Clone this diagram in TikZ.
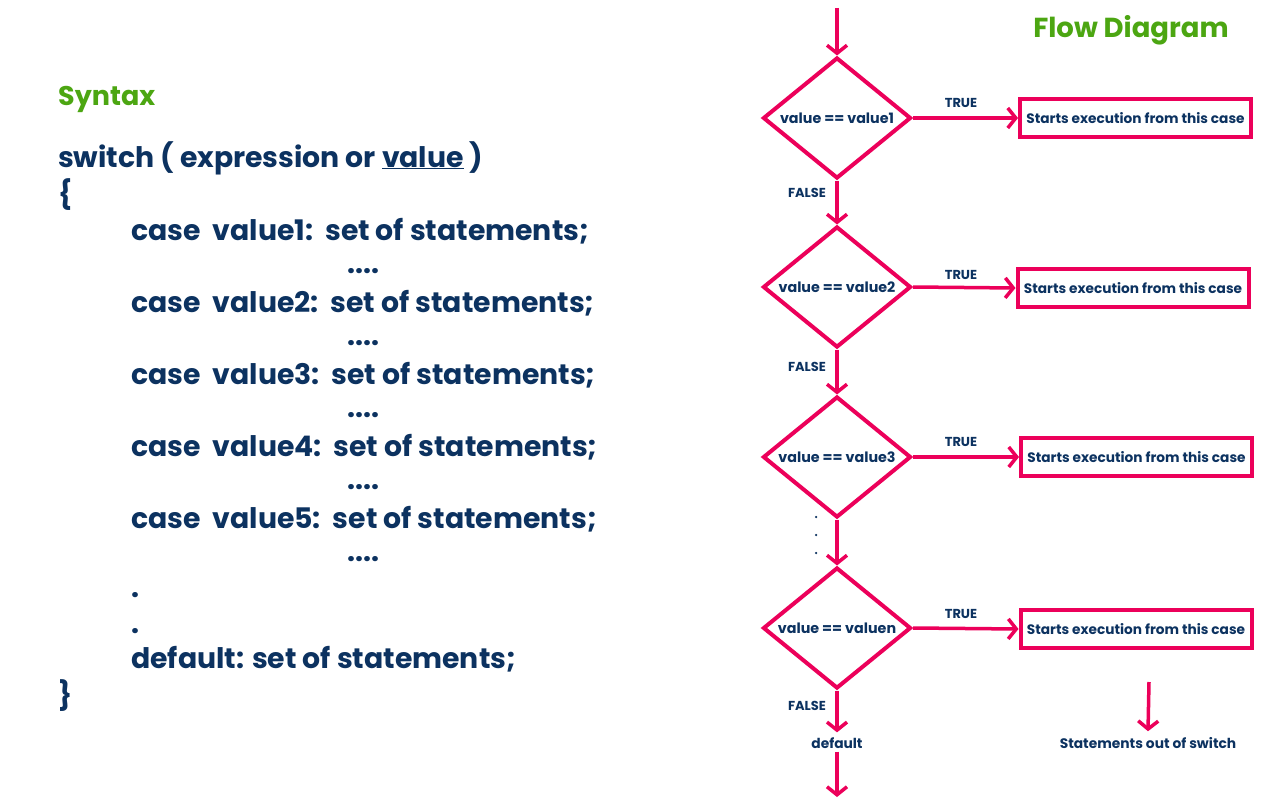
\documentclass[tikz,border=0pt]{standalone}
\usepackage{fontspec}
\setmainfont{Poppins}
\usetikzlibrary{shapes.geometric,arrows.meta}
\definecolor{pinkc}{RGB}{236,0,90}
\definecolor{navy}{RGB}{12,50,96}
\definecolor{greenc}{RGB}{76,166,18}
\newcommand{\csp}{\hspace{12pt}}
\newcommand{\zw}[1]{\makebox[0pt]{#1}}
\tikzset{
  dia/.style={diamond,draw=pinkc,line width=4pt,minimum width=148pt,minimum height=121pt,inner sep=0pt,
    font=\bfseries\fontsize{14.3}{16}\selectfont,text=navy},
  casebox/.style={rectangle,draw=pinkc,line width=4pt,minimum width=231pt,minimum height=38pt,inner sep=0pt,
    font=\bfseries\fontsize{13.7}{15}\selectfont,text=navy},
  arr/.style={draw=pinkc,line width=3.5pt,-{Straight Barb[length=8pt,width=20pt]}},
  lbl/.style={font=\bfseries\fontsize{13}{15}\selectfont,text=navy,inner sep=0pt},
  lbb/.style={font=\bfseries\fontsize{13.8}{15}\selectfont,text=navy,inner sep=0pt},
  code/.style={anchor=base west,font=\bfseries\fontsize{28.3}{30}\selectfont,text=navy,inner sep=0pt},
  ttl/.style={font=\bfseries\fontsize{27.5}{30}\selectfont,text=greenc,inner sep=0pt},
  dotn/.style={circle,fill=navy,inner sep=0pt,minimum size=2.5pt}
}
\begin{document}
\begin{tikzpicture}[x=1pt,y=-1pt]
\useasboundingbox (0,0) rectangle (1280,800);
\fill[white] (0,0) rectangle (1280,800);
% left: syntax
\node[ttl,anchor=base west,font=\bfseries\fontsize{27}{30}\selectfont] (syn) at (58,105) {Syntax};
\node[code] (l0) at (58,167) {switch ( expression or \underline{value} )};
\node[code] (l1) at (58,204) {\{};
\node[code] (c1) at (131,240) {case\ \ value1:\csp set of statements;};
\node[code] (e1) at (347,273) {....};
\node[code] (c2) at (131,312) {case\ \ value2:\csp set of statements;};
\node[code] (e2) at (347,345) {....};
\node[code] (c3) at (131,384) {case\ \ value3:\csp set of statements;};
\node[code] (e3) at (347,417) {....};
\node[code] (c4) at (131,456) {case\ \ value4:\csp set of statements;};
\node[code] (e4) at (347,489) {....};
\node[code] (c5) at (131,528) {case\ \ value5:\csp set of statements;};
\node[code] (e5) at (347,561) {....};
\node[code] (s1) at (131,597) {.};
\node[code] (s2) at (131,633) {.};
\node[code] (df) at (131,668) {default: set of statements;};
\node[code] (l2) at (58,705) {\}};
% right: flow diagram
\node[ttl] (fd) at (1131,30) {Flow Diagram};
\coordinate (top) at (837,8);
\node[dia] (d1) at (837,118) {\zw{value == value1}};
\node[dia] (d2) at (837,287) {\zw{value == value2}};
\node[dia] (d3) at (837,457) {\zw{value == value3}};
\node[dia] (dn) at (837,628) {\zw{value == valuen}};
\node[casebox] (b1) at (1135.5,118) {Starts execution from this case};
\node[casebox] (b2) at (1133,288) {Starts execution from this case};
\node[casebox] (b3) at (1136.5,457) {Starts execution from this case};
\node[casebox] (bn) at (1136,629) {Starts execution from this case};
\draw[arr] (top) -- (d1.north);
\draw[arr] (d1.south) -- (d2.north);
\draw[arr] (d2.south) -- (d3.north);
\draw[arr] (d3.south) -- (dn.north);
\draw[arr] (d1.east) -- (b1.west);
\draw[arr] (d2.east) -- (b2.west);
\draw[arr] (d3.east) -- (b3.west);
\draw[arr] (dn.east) -- (bn.west);
\node[lbl] (t1) at (961,103) {TRUE};
\node[lbl] (t2) at (961,275) {TRUE};
\node[lbl] (t3) at (961,442) {TRUE};
\node[lbl] (tn) at (961,614) {TRUE};
\node[lbl] (f1) at (807,193) {FALSE};
\node[lbl] (f2) at (807,367) {FALSE};
\node[lbl] (fn) at (807,706) {FALSE};
\node[dotn] (p1) at (816,517) {};
\node[dotn] (p2) at (816,535) {};
\node[dotn] (p3) at (816,553) {};
\node[lbb] (def) at (837,743) {default};
\draw[arr] (dn.south) -- ([yshift=5pt]def.north);
\coordinate (bot) at (837,797);
\draw[arr] ([yshift=-3pt]def.south) -- (bot);
\coordinate (outtop) at (1149,682);
\node[lbb] (out) at (1148,743) {Statements out of switch};
\draw[arr] (outtop) -- ([yshift=6pt]out.north);
\end{tikzpicture}
\end{document}
